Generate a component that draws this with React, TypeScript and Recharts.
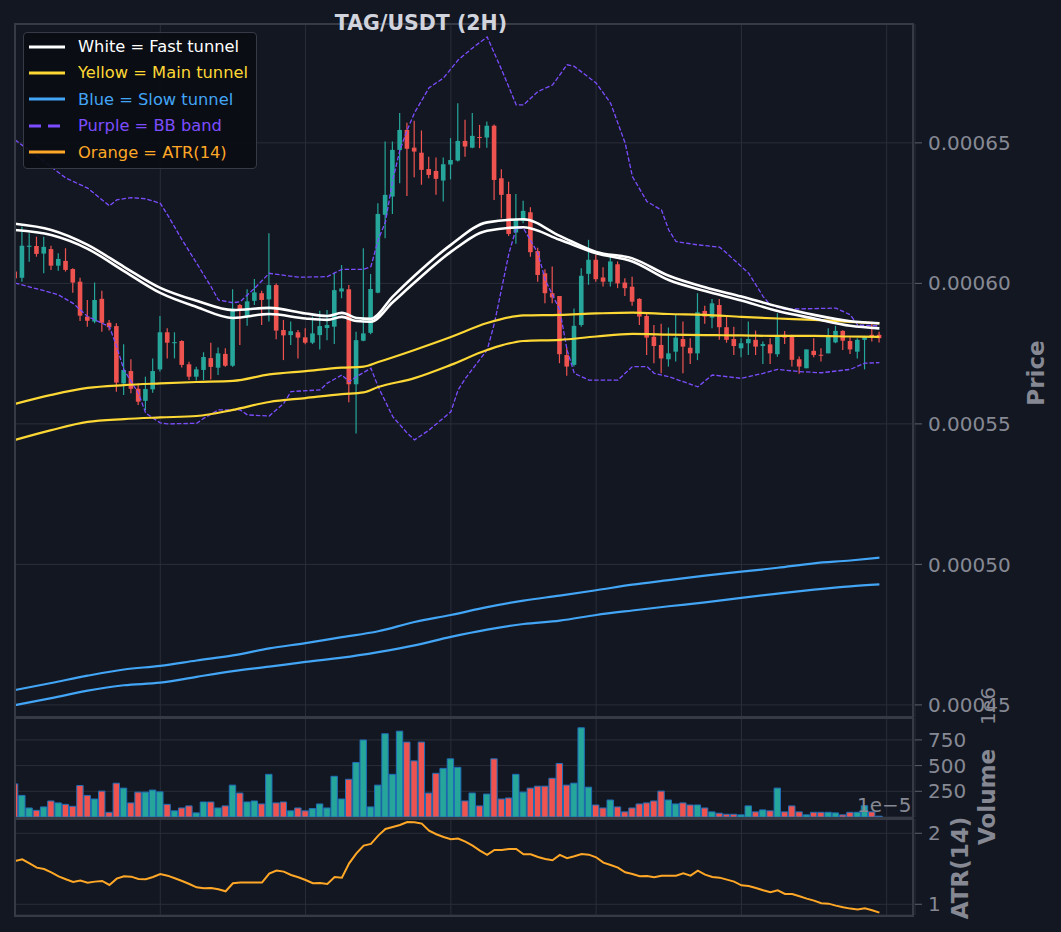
import React from 'react';
import { ComposedChart, Bar, Line, XAxis, YAxis, CartesianGrid, Cell } from 'recharts';

const UP = '#26a69a';
const DOWN = '#ef5350';
const BG = '#131722';
const GRID = '#2a2e39';
const FRAME = '#363a45';
const MUTED = '#868993';

const WHITE = '#ffffff';
const YELLOW = '#fdd835';
const BLUE = '#42a5f5';
const PURPLE = '#7c4dff';
const ORANGE = '#ffa726';

// candles, prices in 1e-6 USDT
const opens = [
  604.2, 602.0, 613.0, 613.3, 610.6, 612.2, 606.3, 608.0, 605.1, 600.6,
  588.2, 586.4, 594.5, 586.0, 584.8, 564.4, 568.8, 562.5, 558.2, 562.3,
  569.4, 582.6, 578.7, 579.5, 571.2, 566.8, 569.2, 573.4, 570.0, 574.9,
  570.7, 592.3, 588.4, 593.8, 596.5, 594.3, 599.4, 583.4, 581.6, 582.6,
  580.8, 578.9, 581.6, 584.1, 584.6, 597.1, 597.9, 564.1, 579.6, 582.4,
  596.7, 624.4, 630.9, 647.5, 654.6, 648.3, 646.5, 640.7, 640.0, 636.6,
  642.3, 643.7, 650.7, 648.3, 652.1, 651.9, 656.1, 637.4, 631.8, 618.1,
  622.2, 625.3, 611.5, 603.6, 596.5, 595.5, 574.5, 571.0, 585.2, 603.4,
  608.4, 602.1, 600.6, 606.8, 600.3, 598.8, 594.5, 588.4, 581.0, 578.1,
  573.0, 575.7, 580.2, 577.1, 575.1, 590.2, 587.8, 592.3, 584.4, 580.2,
  576.9, 578.7, 579.9, 577.7, 578.3, 574.8, 581.7, 581.1, 573.0, 569.8,
  576.0, 574.6, 575.1, 579.0, 583.1, 579.5, 575.7, 579.9, 581.7, 581.7,
];
const highs = [
  605.5, 620.2, 617.8, 616.6, 616.6, 613.4, 610.7, 612.5, 605.4, 602.0,
  594.1, 600.3, 597.4, 587.0, 585.8, 578.3, 573.0, 564.4, 566.8, 573.3,
  588.4, 584.0, 582.6, 579.8, 572.1, 570.3, 575.5, 578.9, 577.2, 576.9,
  597.9, 592.7, 597.9, 601.6, 597.4, 617.8, 600.0, 587.0, 586.4, 583.4,
  584.0, 588.2, 590.3, 590.5, 603.6, 606.5, 599.4, 582.8, 612.5, 603.3,
  628.5, 650.5, 650.5, 660.6, 657.2, 657.9, 654.4, 645.1, 644.8, 644.8,
  651.7, 664.1, 658.2, 660.6, 656.4, 657.6, 656.5, 640.6, 636.2, 631.8,
  629.4, 627.1, 612.7, 605.0, 606.0, 595.5, 577.1, 591.1, 605.4, 615.5,
  610.1, 605.7, 609.8, 607.8, 601.8, 602.4, 594.7, 589.4, 585.2, 585.6,
  584.3, 588.8, 586.4, 580.5, 596.5, 592.0, 594.4, 594.4, 588.2, 584.6,
  580.5, 586.4, 583.2, 579.3, 580.5, 589.4, 583.1, 581.7, 574.0, 576.5,
  580.5, 576.9, 584.0, 584.9, 583.3, 580.8, 580.5, 581.3, 585.8, 582.8,
];
const lows = [
  600.5, 600.6, 607.7, 609.5, 603.6, 604.8, 604.5, 604.2, 596.7, 586.6,
  584.6, 585.8, 582.8, 583.2, 561.4, 560.3, 560.9, 556.7, 554.9, 561.1,
  568.6, 573.3, 573.3, 570.1, 565.6, 565.4, 565.6, 565.8, 567.4, 570.3,
  570.3, 578.1, 584.9, 592.3, 585.2, 586.4, 580.1, 572.7, 578.1, 573.3,
  578.3, 578.4, 576.5, 579.8, 578.4, 594.7, 557.7, 546.6, 579.4, 581.9,
  596.5, 616.1, 624.7, 635.6, 631.1, 637.8, 635.1, 637.4, 631.5, 629.1,
  637.0, 643.4, 645.1, 648.1, 648.1, 648.3, 629.7, 623.2, 616.9, 614.1,
  621.4, 609.5, 600.6, 592.9, 592.9, 571.6, 567.1, 570.4, 584.6, 599.5,
  600.6, 598.9, 598.9, 598.3, 595.5, 592.0, 585.2, 574.5, 571.6, 568.0,
  570.4, 572.2, 568.0, 571.3, 572.7, 585.6, 584.0, 579.9, 578.9, 574.5,
  573.7, 574.5, 574.5, 571.3, 571.3, 573.9, 578.4, 570.4, 567.8, 569.8,
  573.7, 572.2, 575.1, 578.7, 576.3, 574.9, 573.3, 569.4, 579.3, 579.0,
];
const closes = [
  601.8, 613.4, 613.4, 610.5, 613.0, 606.3, 608.7, 604.8, 600.3, 588.5,
  586.7, 594.1, 586.0, 584.4, 564.7, 569.2, 562.5, 557.9, 562.4, 568.8,
  582.6, 578.9, 579.1, 571.0, 566.8, 569.4, 573.8, 570.3, 575.1, 570.7,
  591.0, 590.9, 593.6, 596.8, 594.1, 599.4, 583.2, 581.5, 583.0, 580.7,
  578.9, 582.2, 584.8, 585.2, 597.6, 598.2, 564.1, 579.8, 582.2, 598.0,
  624.7, 631.5, 647.5, 654.6, 647.9, 646.9, 640.4, 638.6, 637.2, 642.4,
  643.9, 650.7, 648.7, 652.5, 651.9, 656.1, 636.8, 631.5, 617.6, 622.6,
  625.8, 611.1, 603.0, 596.5, 595.0, 574.8, 570.4, 584.9, 602.7, 608.4,
  601.5, 600.6, 607.8, 600.0, 598.3, 593.5, 588.2, 580.7, 577.7, 573.3,
  575.1, 580.7, 577.5, 575.1, 589.7, 588.2, 592.9, 584.4, 579.9, 577.7,
  578.7, 580.2, 577.5, 578.4, 575.1, 581.1, 580.7, 572.8, 570.4, 576.5,
  574.5, 574.4, 581.1, 583.1, 579.6, 576.5, 579.9, 581.1, 581.1, 580.5,
];

// volume in millions
const volumes = [
  322, 210, 88, 65, 98, 156, 137, 123, 104, 306,
  210, 175, 252, 46, 329, 281, 137, 242, 242, 262,
  245, 123, 60, 88, 108, 40, 146, 146, 88, 108,
  310, 233, 146, 156, 127, 415, 137, 146, 60, 88,
  60, 82, 127, 88, 396, 175, 367, 531, 749, 98,
  310, 810, 415, 835, 729, 546, 729, 233, 425, 473,
  566, 483, 156, 233, 108, 223, 566, 175, 185, 415,
  242, 281, 300, 300, 377, 521, 310, 329, 868, 290,
  117, 88, 165, 98, 50, 88, 127, 137, 156, 252,
  165, 127, 137, 117, 117, 88, 50, 37, 27, 27,
  21, 108, 50, 69, 60, 281, 50, 108, 50, 21,
  46, 46, 46, 40, 21, 46, 46, 110, 50, 8,
];

// ATR(14) in 1e-5
const atrValues = [
  1.610, 1.634, 1.577, 1.516, 1.497, 1.450, 1.394, 1.352, 1.314, 1.333,
  1.305, 1.319, 1.328, 1.272, 1.361, 1.394, 1.389, 1.357, 1.352, 1.385,
  1.427, 1.403, 1.366, 1.328, 1.286, 1.239, 1.225, 1.230, 1.211, 1.183,
  1.296, 1.305, 1.305, 1.305, 1.305, 1.432, 1.474, 1.460, 1.413, 1.380,
  1.342, 1.296, 1.300, 1.286, 1.385, 1.375, 1.577, 1.718, 1.826, 1.850,
  1.967, 2.061, 2.089, 2.117, 2.159, 2.155, 2.136, 2.037, 1.986, 1.948,
  1.915, 1.925, 1.882, 1.826, 1.756, 1.695, 1.765, 1.765, 1.779, 1.779,
  1.704, 1.704, 1.666, 1.638, 1.620, 1.695, 1.648, 1.676, 1.709, 1.699,
  1.662, 1.587, 1.554, 1.516, 1.450, 1.427, 1.394, 1.399, 1.380, 1.403,
  1.403, 1.403, 1.436, 1.403, 1.474, 1.418, 1.385, 1.375, 1.347, 1.319,
  1.267, 1.258, 1.230, 1.197, 1.169, 1.197, 1.145, 1.145, 1.113, 1.080,
  1.051, 1.014, 1.009, 0.981, 0.958, 0.939, 0.925, 0.943, 0.915, 0.882,
];

// overlay lines, read at [candle index, price]
const fastUpper = [
  [0, 621.2], [5, 619.0], [10, 613.7], [15, 605.9], [20, 598.4], [25, 593.8],
  [30, 590.5], [35, 591.3], [40, 589.3], [43, 588.4], [45, 589.5], [47, 587.7],
  [49, 587.4], [52, 595.3], [55, 602.7], [60, 613.7], [65, 621.7], [70, 622.8],
  [75, 616.9], [80, 611.2], [85, 608.9], [90, 602.7], [95, 598.6], [100, 595.3],
  [105, 591.8], [110, 588.8], [115, 586.5], [119, 585.8],
];
const fastLower = [
  [0, 619.0], [5, 617.2], [10, 612.3], [15, 604.4], [20, 596.6], [25, 591.6],
  [30, 587.7], [35, 589.1], [40, 587.5], [43, 587.0], [45, 588.1], [47, 586.6],
  [49, 586.4], [52, 593.3], [55, 600.3], [60, 611.2], [65, 618.7], [70, 620.0],
  [75, 615.5], [80, 610.7], [85, 607.8], [90, 601.2], [95, 597.3], [100, 593.9],
  [105, 590.2], [110, 587.5], [115, 584.9], [119, 584.0],
];
const mainUpper = [
  [0, 557.1], [5, 560.3], [10, 562.8], [15, 563.8], [20, 564.4], [25, 564.9],
  [30, 565.3], [35, 567.6], [40, 568.8], [45, 570.0], [48, 570.4], [50, 572.0],
  [55, 576.3], [60, 580.9], [65, 585.9], [70, 588.6], [75, 588.8], [80, 589.3],
  [85, 589.6], [90, 589.1], [95, 588.8], [100, 588.1], [105, 587.5], [110, 587.0],
  [115, 586.3], [119, 585.8],
];
const mainLower = [
  [0, 544.3], [5, 547.8], [10, 550.7], [15, 551.7], [20, 552.3], [25, 552.8],
  [30, 555.0], [35, 557.8], [40, 559.2], [45, 560.6], [48, 561.2], [50, 563.1],
  [55, 566.3], [60, 571.0], [65, 576.3], [70, 579.5], [75, 579.9], [80, 581.1],
  [85, 582.0], [90, 581.8], [95, 581.6], [100, 581.5], [105, 581.3], [110, 581.3],
  [115, 581.1], [119, 581.0],
];
const slowUpper = [
  [0, 455.3], [5, 457.8], [10, 460.4], [15, 462.6], [20, 463.9], [25, 465.8],
  [30, 467.6], [35, 470.1], [40, 472.0], [45, 474.1], [50, 476.2], [55, 479.5],
  [60, 482.0], [65, 484.8], [70, 487.1], [75, 488.9], [80, 490.8], [85, 492.8],
  [90, 494.4], [95, 496.0], [100, 497.4], [105, 498.8], [110, 500.4], [115, 501.4],
  [119, 502.4],
];
const slowLower = [
  [0, 449.9], [5, 452.4], [10, 455.1], [15, 457.0], [20, 457.9], [25, 460.0],
  [30, 462.0], [35, 463.6], [40, 465.3], [45, 466.8], [50, 468.8], [55, 471.2],
  [60, 474.2], [65, 476.8], [70, 478.8], [75, 480.0], [80, 482.0], [85, 483.6],
  [90, 485.1], [95, 486.5], [100, 488.1], [105, 489.6], [110, 491.0], [115, 492.2],
  [119, 492.9],
];
const bbUpper = [
  [0, 651.1], [7, 637.5], [10, 633.9], [13, 627.6], [14, 629.7], [16, 630.5],
  [18, 630.1], [20, 628.5], [21, 624.4], [23, 615.5], [25, 607.2], [27, 598.8],
  [28, 594.1], [30, 593.1], [31, 593.5], [33, 598.3], [35, 603.6], [39, 602.2],
  [43, 602.4], [45, 605.0], [48, 605.0], [49, 606.0], [50, 615.5], [51, 621.9],
  [52, 636.8], [53, 647.5], [54, 654.6], [55, 660.7], [57, 669.6], [59, 673.1],
  [61, 679.5], [63, 683.8], [65, 687.7], [67, 676.0], [69, 663.5], [70, 663.5],
  [72, 668.3], [74, 670.6], [76, 677.8], [77, 677.2], [80, 671.3], [82, 664.1],
  [84, 649.9], [85, 638.0], [87, 629.1], [89, 626.1], [90, 619.0], [91, 614.9],
  [94, 613.7], [97, 612.9], [98, 610.7], [101, 603.6], [103, 595.3], [104, 592.3],
  [106, 590.8], [113, 591.2], [115, 588.8], [116, 585.2], [119, 584.9],
];
const bbLower = [
  [0, 600.1], [4, 597.4], [6, 595.9], [8, 592.9], [10, 588.2], [13, 584.6],
  [14, 577.5], [15, 569.2], [17, 560.9], [18, 553.8], [20, 550.4], [21, 550.0],
  [25, 550.2], [26, 552.0], [28, 555.0], [31, 555.0], [32, 553.2], [35, 552.8],
  [37, 557.3], [38, 561.5], [42, 562.1], [43, 564.5], [45, 567.4], [46, 565.0],
  [47, 566.8], [49, 569.8], [50, 563.2], [52, 552.6], [54, 546.7], [55, 544.3],
  [57, 547.8], [60, 554.3], [61, 562.1], [62, 566.2], [65, 576.3], [66, 585.8],
  [68, 610.7], [69, 619.6], [70, 619.6], [72, 610.7], [73, 601.2], [75, 590.5],
  [76, 576.3], [77, 568.0], [79, 565.6], [83, 565.6], [85, 570.4], [87, 570.4],
  [88, 568.0], [90, 566.8], [94, 563.2], [96, 567.4], [100, 566.2], [103, 568.0],
  [105, 569.4], [108, 568.6], [111, 568.2], [115, 569.4], [117, 571.6], [119, 571.8],
];

const priceTicks = [450, 500, 550, 600, 650];
const volumeTicks = [250, 500, 750];
const atrTicks = [1, 2];
const xTicks = [0, 20, 40, 60, 80, 100, 120];

const legendItems = [
  { label: 'White = Fast tunnel', color: WHITE, dashed: false },
  { label: 'Yellow = Main tunnel', color: YELLOW, dashed: false },
  { label: 'Blue = Slow tunnel', color: BLUE, dashed: false },
  { label: 'Purple = BB band', color: PURPLE, dashed: true },
  { label: 'Orange = ATR(14)', color: ORANGE, dashed: false },
];

const rows: any[] = opens.map((o, i) => ({
  i,
  open: o,
  high: highs[i],
  low: lows[i],
  close: closes[i],
  range: [lows[i], highs[i]],
  vol: volumes[i],
  atr: atrValues[i],
}));
const series: [string, number[][]][] = [
  ['fastUp', fastUpper], ['fastLo', fastLower],
  ['mainUp', mainUpper], ['mainLo', mainLower],
  ['slowUp', slowUpper], ['slowLo', slowLower],
  ['bbUp', bbUpper], ['bbLo', bbLower],
];
series.forEach(([key, pts]) => pts.forEach(([i, v]) => { rows[i][key] = v; }));

const Candle = (props: any) => {
  const { x, y, width, height, payload } = props;
  const { open, close, high, low } = payload;
  const color = close >= open ? UP : DOWN;
  const span = high - low || 1;
  const yOf = (v: number) => y + ((high - v) / span) * height;
  const cx = x + width / 2;
  const top = yOf(Math.max(open, close));
  const bot = yOf(Math.min(open, close));
  return (
    <g>
      <line x1={cx} x2={cx} y1={y} y2={y + height} stroke={color} strokeWidth={1.2} />
      <rect x={x} y={top} width={width} height={Math.max(bot - top, 1)} fill={color} />
    </g>
  );
};

const W = 1061;
const MARGIN = { top: 0, right: 0, bottom: 0, left: 15 };
const tickStyle = { fill: MUTED, fontSize: 20 };

const xAxis = (
  <XAxis type="number" dataKey="i" domain={[0, 123.9]} ticks={xTicks} allowDataOverflow hide />
);

const yAxisProps = {
  orientation: 'right' as const,
  width: 146,
  axisLine: false,
  tickSize: 7,
  tickMargin: 6,
  tickLine: { stroke: '#5d606b' },
  tick: tickStyle,
  interval: 0 as const,
  allowDataOverflow: true,
};

const rotated = (text: string, x: number, y: number, bold = true, size = 23) => (
  <div
    style={{
      position: 'absolute',
      left: x,
      top: y,
      transform: 'translate(-50%, -50%) rotate(-90deg)',
      color: MUTED,
      fontSize: size,
      fontWeight: bold ? 'bold' : 'normal',
      whiteSpace: 'nowrap',
    }}
  >
    {text}
  </div>
);

const frame = (top: number, height: number) => (
  <div
    style={{
      position: 'absolute',
      left: 14,
      top,
      width: 900,
      height,
      border: `2px solid ${FRAME}`,
      boxSizing: 'border-box',
      pointerEvents: 'none',
    }}
  />
);

export default function App() {
  return (
    <div
      style={{
        position: 'absolute',
        left: 0,
        top: 0,
        width: W,
        height: 932,
        background: BG,
        fontFamily: '"DejaVu Sans", sans-serif',
        overflow: 'hidden',
      }}
    >
      <div style={{ position: 'absolute', left: 0, top: 24 }}>
        <ComposedChart width={W} height={693} data={rows} margin={MARGIN}>
          <CartesianGrid stroke={GRID} strokeWidth={1} />
          {xAxis}
          <YAxis
            {...yAxisProps}
            domain={[445.7, 692.3]}
            ticks={priceTicks}
            tickFormatter={(v: number) => (v / 1e6).toFixed(5)}
          />
          <Bar dataKey="range" barSize={4.6} shape={Candle} isAnimationActive={false} />
          <Line dataKey="slowUp" type="monotone" stroke={BLUE} strokeWidth={2.2} dot={false} connectNulls isAnimationActive={false} />
          <Line dataKey="slowLo" type="monotone" stroke={BLUE} strokeWidth={2.2} dot={false} connectNulls isAnimationActive={false} />
          <Line dataKey="bbUp" type="linear" stroke={PURPLE} strokeWidth={1.3} strokeDasharray="4.5 2" dot={false} connectNulls isAnimationActive={false} />
          <Line dataKey="bbLo" type="linear" stroke={PURPLE} strokeWidth={1.3} strokeDasharray="4.5 2" dot={false} connectNulls isAnimationActive={false} />
          <Line dataKey="mainUp" type="monotone" stroke={YELLOW} strokeWidth={2.2} dot={false} connectNulls isAnimationActive={false} />
          <Line dataKey="mainLo" type="monotone" stroke={YELLOW} strokeWidth={2.2} dot={false} connectNulls isAnimationActive={false} />
          <Line dataKey="fastUp" type="monotone" stroke={WHITE} strokeWidth={2.6} dot={false} connectNulls isAnimationActive={false} />
          <Line dataKey="fastLo" type="monotone" stroke={WHITE} strokeWidth={2.6} dot={false} connectNulls isAnimationActive={false} />
        </ComposedChart>
      </div>

      <div style={{ position: 'absolute', left: 0, top: 718 }}>
        <ComposedChart width={W} height={99} data={rows} margin={MARGIN}>
          <CartesianGrid stroke={GRID} strokeWidth={1} />
          {xAxis}
          <YAxis {...yAxisProps} domain={[0, 963]} ticks={volumeTicks} />
          <Bar dataKey="vol" barSize={6.4} stroke="#1f6fb8" strokeWidth={1} isAnimationActive={false}>
            {rows.map((r) => (
              <Cell key={r.i} fill={r.close >= r.open ? UP : DOWN} />
            ))}
          </Bar>
        </ComposedChart>
      </div>

      <div style={{ position: 'absolute', left: 0, top: 819 }}>
        <ComposedChart width={W} height={96} data={rows} margin={MARGIN}>
          <CartesianGrid stroke={GRID} strokeWidth={1} />
          {xAxis}
          <YAxis {...yAxisProps} domain={[0.849, 2.201]} ticks={atrTicks} />
          <Line dataKey="atr" type="linear" stroke={ORANGE} strokeWidth={2} dot={false} isAnimationActive={false} />
        </ComposedChart>
      </div>

      {frame(23, 695)}
      {frame(717, 102)}
      {frame(818, 99)}

      <div
        style={{
          position: 'absolute',
          left: 311,
          top: 11,
          width: 220,
          textAlign: 'center',
          color: '#d1d4dc',
          fontSize: 20.5,
          fontWeight: 'bold',
        }}
      >
        TAG/USDT (2H)
      </div>

      <div
        style={{
          position: 'absolute',
          left: 23,
          top: 32,
          width: 234,
          height: 137,
          background: 'rgba(11, 13, 19, 0.93)',
          border: `1.5px solid ${FRAME}`,
          borderRadius: 4,
          boxSizing: 'border-box',
        }}
      >
        {legendItems.map((it, k) => (
          <div
            key={it.label}
            style={{
              position: 'absolute',
              left: 4,
              top: 2.5 + k * 26.4,
              height: 22,
              display: 'flex',
              alignItems: 'center',
              whiteSpace: 'nowrap',
            }}
          >
            <svg width={38} height={6} style={{ marginRight: 12 }}>
              <line
                x1={1}
                x2={37}
                y1={3}
                y2={3}
                stroke={it.color}
                strokeWidth={3}
                strokeDasharray={it.dashed ? '12 7' : undefined}
              />
            </svg>
            <span style={{ color: it.color, fontSize: 16.3 }}>{it.label}</span>
          </div>
        ))}
      </div>

      {rotated('Price', 1036, 373)}
      {rotated('Volume', 987, 797)}
      {rotated('ATR(14)', 960, 868)}
      {rotated('1e6', 988, 706, false, 20)}
      <div
        style={{
          position: 'absolute',
          left: 857,
          top: 793,
          color: MUTED,
          fontSize: 20,
          whiteSpace: 'nowrap',
        }}
      >
        1e−5
      </div>
    </div>
  );
}
